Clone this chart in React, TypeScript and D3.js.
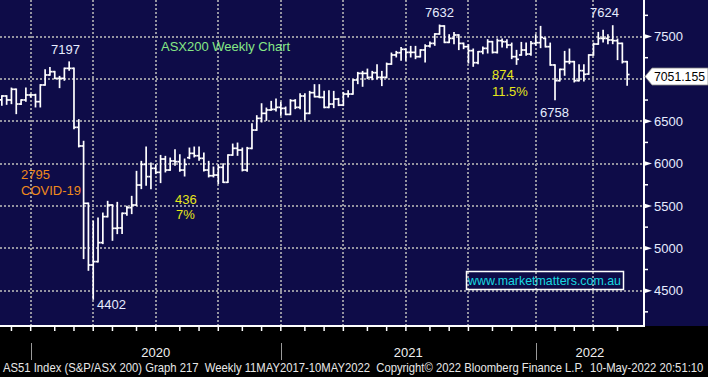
import React, { useLayoutEffect, useRef, useState } from 'react';
import * as d3 from 'd3';

// Weekly OHLC, S&P/ASX 200, week ending Fri 15-Nov-2019 .. Fri 13-May-2022
const opens = [
  6751, 6798, 6751, 6877, 6703, 6751, 6810,
  6810, 6731, 6928, 7046, 7085, 7006, 7006, 7124, 7124, 6428,
  6208, 5531, 4803, 4843, 5067, 5374, 5511, 5236, 5240, 5413,
  5480, 5511, 5747, 5991, 5846, 5944, 5897, 6054, 5924, 6031,
  6023, 5924, 6070, 6121, 6093, 6062, 5924, 5857, 5865, 5956,
  5779, 6101, 6180, 6160, 5924, 6180, 6396, 6534, 6593, 6633,
  6640, 6664, 6652, 6581, 6743, 6664, 6798, 6593, 6837, 6790,
  6782, 6664, 6703, 6762, 6691, 6821, 6821, 6987, 7065, 7065,
  7018, 7073, 7018, 7018, 7175, 7282, 7309, 7349, 7313, 7313,
  7262, 7341, 7388, 7419, 7530, 7624, 7431, 7478, 7518, 7419,
  7380, 7333, 7191, 7321, 7360, 7439, 7313, 7451, 7439, 7400,
  7262, 7282, 7341, 7293, 7419, 7427, 7478, 7380, 7164, 6979,
  7112, 7203, 7203, 6979, 7097, 7057, 7282, 7411, 7478, 7478,
  7459, 7451, 7419, 7203,
];
const highs = [
  6798, 6798, 6888, 6877, 6751, 6888, 6815,
  6815, 6928, 7105, 7132, 7085, 7026, 7124, 7197, 7124, 6515,
  6260, 5531, 5315, 5354, 5413, 5551, 5511, 5539, 5413, 5492,
  5610, 5905, 6023, 6192, 6003, 5983, 6093, 6082, 6062, 6160,
  6101, 6050, 6180, 6192, 6192, 6121, 6023, 5956, 5983, 5995,
  6101, 6227, 6239, 6180, 6188, 6467, 6562, 6703, 6652, 6731,
  6758, 6719, 6664, 6751, 6751, 6821, 6821, 6849, 6928, 6928,
  6849, 6857, 6849, 6766, 6837, 6857, 6987, 7073, 7085, 7112,
  7085, 7164, 7085, 7183, 7301, 7321, 7368, 7349, 7380, 7380,
  7341, 7400, 7431, 7530, 7632, 7624, 7518, 7545, 7518, 7419,
  7400, 7349, 7321, 7372, 7459, 7439, 7467, 7467, 7459, 7419,
  7333, 7427, 7419, 7439, 7518, 7616, 7478, 7419, 7164, 7112,
  7321, 7349, 7203, 7164, 7164, 7282, 7419, 7545, 7569, 7518,
  7624, 7467, 7419, 7203,
];
const lows = [
  6692, 6703, 6711, 6593, 6700, 6739, 6790,
  6672, 6672, 6928, 7046, 7006, 6900, 6987, 7105, 6416, 6200,
  4882, 4744, 4402, 4843, 5059, 5374, 5098, 5177, 5177, 5393,
  5413, 5510, 5708, 5747, 5708, 5885, 5779, 5905, 5924, 5983,
  5913, 5857, 6062, 6082, 6042, 5917, 5846, 5846, 5767, 5779,
  5779, 6101, 6101, 5917, 5913, 6180, 6396, 6495, 6514, 6633,
  6625, 6573, 6581, 6581, 6652, 6652, 6522, 6593, 6790, 6782,
  6664, 6664, 6664, 6688, 6688, 6790, 6821, 6947, 6916, 7006,
  6994, 7006, 6924, 7016, 7175, 7262, 7223, 7223, 7262, 7242,
  7262, 7203, 7380, 7400, 7530, 7431, 7431, 7419, 7349, 7360,
  7191, 7152, 7183, 7301, 7309, 7309, 7309, 7380, 7372, 7242,
  7175, 7282, 7282, 7282, 7400, 7372, 7380, 7164, 6758, 6979,
  7046, 7183, 6967, 6979, 6979, 7057, 7282, 7411, 7439, 7419,
  7419, 7231, 7191, 6928,
];
const closes = [
  6798, 6751, 6877, 6703, 6751, 6810, 6810,
  6731, 6928, 7046, 7085, 7006, 7006, 7124, 7124, 6428, 6208,
  5531, 4803, 4843, 5067, 5374, 5511, 5236, 5240, 5413, 5480,
  5511, 5747, 5991, 5846, 5944, 5897, 6054, 5924, 6031, 6023,
  5924, 5991, 6121, 6093, 6062, 5924, 5857, 5865, 5956, 5779,
  6101, 6180, 6160, 5924, 6180, 6396, 6534, 6593, 6633, 6640,
  6664, 6652, 6581, 6743, 6664, 6798, 6593, 6837, 6790, 6782,
  6664, 6703, 6762, 6691, 6821, 6821, 6987, 7065, 7065, 7018,
  7073, 7018, 7018, 7175, 7282, 7309, 7349, 7313, 7313, 7262,
  7341, 7388, 7419, 7530, 7624, 7431, 7478, 7518, 7419, 7380,
  7333, 7191, 7321, 7360, 7439, 7313, 7451, 7439, 7400, 7262,
  7231, 7341, 7293, 7419, 7427, 7490, 7380, 7164, 6979, 7112,
  7203, 7203, 6979, 7097, 7054, 7282, 7411, 7478, 7478, 7459,
  7451, 7419, 7203, 7051.155,
];

const weeks = d3.timeFriday.range(new Date(2019, 10, 15), new Date(2022, 4, 14));

const yTicks = [4500, 5000, 5500, 6000, 6500, 7000, 7500];
const yTickLabels = [4500, 5000, 5500, 6000, 6500, 7500]; // 7000 hidden behind the last-price flag
const yMinorTicks = [4250, 4750, 5250, 5750, 6250, 6750, 7250, 7750];
const lastLabel = '7051.155';

const footerText =
  'AS51 Index (S&P/ASX 200) Graph 217  Weekly 11MAY2017-10MAY2022  Copyright\u00A9 2022 Bloomberg Finance L.P.  10-May-2022 20:51:10';

const annotations = [
  { text: '7197', x: 51, y: 54, color: '#e6ecff' },
  { text: 'ASX200 Weekly Chart', x: 161, y: 51, color: '#86e886' },
  { text: '2795', x: 21, y: 179, color: '#f08a1c' },
  { text: 'COVID-19', x: 21, y: 195, color: '#f08a1c' },
  { text: '436', x: 175, y: 204, color: '#e6e61a' },
  { text: '7%', x: 176, y: 219, color: '#e6e61a' },
  { text: '4402', x: 97, y: 309, color: '#e6ecff' },
  { text: '7632', x: 425, y: 17, color: '#e6ecff' },
  { text: '874', x: 492, y: 79, color: '#e6e61a' },
  { text: '11.5%', x: 492, y: 96, color: '#e6e61a' },
  { text: '6758', x: 540, y: 117, color: '#e6ecff' },
  { text: '7624', x: 590, y: 17, color: '#e6ecff' },
];

const W = 708;
const H = 377;
const PR = 644; // plot right (axis line)
const PB = 326; // plot bottom
const FONT = '"Liberation Sans", Arial, sans-serif';
const NAVY = '#0e0c48';
const GRID = '#9494a0';
const FOOTER_WIDTH = 701;

export default function App() {
  const footerRef = useRef<SVGTextElement>(null);
  const [footerScale, setFooterScale] = useState(0.9);

  useLayoutEffect(() => {
    if (footerRef.current) {
      const len = footerRef.current.getComputedTextLength();
      if (len > 0) setFooterScale(FOOTER_WIDTH / len);
    }
  }, []);

  const x = d3.scaleLinear().domain([-0.38, 133.5]).range([0, PR]);
  const y = d3.scaleLinear().domain([4083, 7931]).range([PB, 0]);
  const step = x(1) - x(0);
  const half = step / 2;

  // month starts (first weekly bar of each month); markers sit one bar before
  const monthStarts: { k: number; date: Date }[] = [];
  for (let k = 1; k < weeks.length; k++) {
    if (weeks[k].getMonth() !== weeks[k - 1].getMonth()) monthStarts.push({ k, date: weeks[k] });
  }
  const monthX = (k: number) => x(k - 1);
  const quarterLines = monthStarts.filter((m) => m.date.getMonth() % 3 === 0);
  const yearLines = monthStarts.filter((m) => m.date.getMonth() === 0);
  const yearBounds = [...yearLines.map((m) => monthX(m.k)), PR];
  const yearLabels = yearLines.map((m, i) => ({
    text: String(m.date.getFullYear()),
    cx: (yearBounds[i] + yearBounds[i + 1]) / 2,
  }));

  const lastY = y(closes[closes.length - 1]) + 2;

  return (
    <svg
      width={W}
      height={H}
      style={{ position: 'absolute', left: 0, top: 0, display: 'block' }}
      fontFamily={FONT}
    >
      <rect x={0} y={0} width={W} height={H} fill="#000" />
      <rect x={0} y={0} width={W} height={PB} fill={NAVY} />

      {/* grid */}
      {yTicks.map((t) => (
        <line
          key={'hg' + t}
          x1={0}
          x2={PR}
          y1={Math.round(y(t))}
          y2={Math.round(y(t))}
          stroke={GRID}
          strokeWidth={2}
          strokeDasharray="2,2"
        />
      ))}
      {quarterLines.map((m) => (
        <line
          key={'vg' + m.k}
          x1={Math.round(monthX(m.k))}
          x2={Math.round(monthX(m.k))}
          y1={0}
          y2={PB}
          stroke={GRID}
          strokeWidth={2}
          strokeDasharray="2,2"
        />
      ))}

      {/* OHLC bars */}
      <g stroke="#ffffff" strokeWidth={1.7} fill="none">
        {weeks.map((d, k) => {
          const cx = x(k);
          return (
            <g key={'b' + k}>
              <line x1={cx} x2={cx} y1={y(highs[k]) - 0.8} y2={y(lows[k]) + 0.8} />
              <line x1={cx - half} x2={cx} y1={y(opens[k])} y2={y(opens[k])} />
              <line x1={cx} x2={cx + half} y1={y(closes[k])} y2={y(closes[k])} />
            </g>
          );
        })}
      </g>

      {/* axes */}
      <line x1={PR} x2={PR} y1={0} y2={PB + 1} stroke="#fff" strokeWidth={2} />
      <line x1={0} x2={PR + 1} y1={PB} y2={PB} stroke="#fff" strokeWidth={2} />
      {monthStarts.map((m) => (
        <line
          key={'mt' + m.k}
          x1={monthX(m.k)}
          x2={monthX(m.k)}
          y1={PB}
          y2={PB + 5}
          stroke="#fff"
          strokeWidth={1.5}
        />
      ))}
      {yMinorTicks.map((t) => (
        <line key={'mn' + t} x1={PR} x2={PR + 4} y1={y(t)} y2={y(t)} stroke="#fff" strokeWidth={1.5} />
      ))}
      {yTickLabels.map((t) => (
        <g key={'yl' + t}>
          <polygon
            points={`${PR},${y(t) - 2.5} ${PR + 8},${y(t)} ${PR},${y(t) + 2.5}`}
            fill="#fff"
          />
          <text x={654} y={y(t)} dy="0.36em" fill="#e6ecff" fontSize={13}>
            {t}
          </text>
        </g>
      ))}

      {/* last price flag */}
      <polygon
        points={`${PR + 1},${lastY} ${PR + 8},${lastY - 8.5} ${W},${lastY - 8.5} ${W},${lastY + 8.5} ${PR + 8},${lastY + 8.5}`}
        fill="#ffffff"
        stroke="#888"
        strokeWidth={0.8}
      />
      <text
        x={654}
        y={lastY}
        dy="0.36em"
        fill="#000"
        fontSize={13}
        textLength={51}
        lengthAdjust="spacingAndGlyphs"
      >
        {lastLabel}
      </text>

      {/* year separators and labels */}
      {yearLines.map((m) => (
        <line
          key={'ys' + m.k}
          x1={Math.round(monthX(m.k)) + 0.5}
          x2={Math.round(monthX(m.k)) + 0.5}
          y1={343}
          y2={360}
          stroke="#9a9a9a"
          strokeWidth={1}
        />
      ))}
      {yearLabels.map((l) => (
        <text key={'yr' + l.text} x={l.cx} y={357} textAnchor="middle" fill="#f0f0f0" fontSize={13}>
          {l.text}
        </text>
      ))}

      {/* annotations */}
      {annotations.map((a, i) => (
        <text key={'an' + i} x={a.x} y={a.y} fill={a.color} fontSize={13}>
          {a.text}
        </text>
      ))}

      {/* watermark */}
      <rect x={466.5} y={271.5} width={157} height={18} fill="none" stroke="#fff" strokeWidth={1.5} />
      <text x={468} y={285} fill="#19d8e0" fontSize={13} textLength={153} lengthAdjust="spacingAndGlyphs">
        www.marketmatters.com.au
      </text>

      {/* footer (condensed horizontally to fit the full width) */}
      <g transform={`translate(3,372) scale(${footerScale},1)`}>
        <text ref={footerRef} x={0} y={0} fill="#e8e8e8" fontSize={13} style={{ whiteSpace: 'pre' }}>
          {footerText}
        </text>
      </g>
    </svg>
  );
}
